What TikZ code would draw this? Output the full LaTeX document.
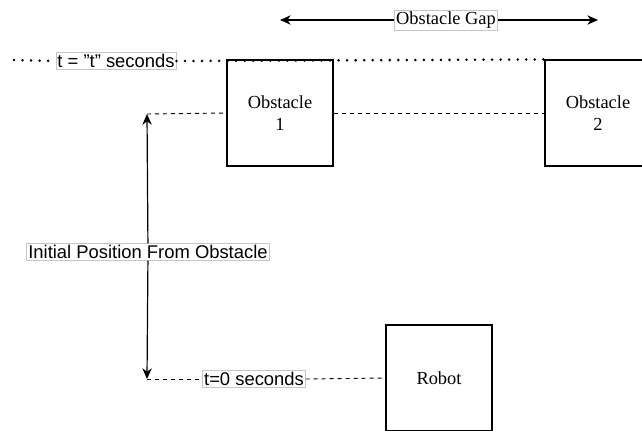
\documentclass[tikz,border=0pt]{standalone}
\usepackage{fontspec}
\setmainfont{Liberation Serif}
\setsansfont{Liberation Sans}
\usepackage{tikz}
\usetikzlibrary{calc, positioning, arrows.meta}

\tikzset{
    block/.style={draw, line width=0.8pt, minimum width=79.5pt, minimum height=79.5pt,
        align=center, font=\fontsize{13.8}{17}\selectfont},
    tag/.style={draw=gray!45, fill=white, inner sep=1.2pt, font=\fontsize{13.8}{16}\selectfont},
    sanstag/.style={tag, font=\sffamily\fontsize{13.8}{16}\selectfont},
    dashline/.style={dashed, dash pattern=on 3pt off 3pt, line width=0.7pt},
    dotline/.style={line width=2.1pt, line cap=round, dash pattern=on 0pt off 6.4pt},
    dimline/.style={-{Stealth[length=8pt, width=7pt, inset=2.5pt]}, line width=0.9pt}
}

\begin{document}
\begin{tikzpicture}[x=0.75pt, y=-0.75pt]
    \useasboundingbox (0,0) rectangle (642,430);
    \clip (0,0) rectangle (642,430);

    % Hindernisse und Roboter
    \node[block] (obs1) at (280,113) {Obstacle\\1};
    \node[block] (obs2) at (598,113) {Obstacle\\2};
    \node[block] (robot) at (439,378) {Robot};

    % Zeitlinie t
    \coordinate (dotstart) at (14,60);
    \node[sanstag] (tline) at (116,61) {t = "t" seconds};
    \draw[dotline] (dotstart) -- (tline.west);
    \draw[dotline] (tline.east) -- (obs2.north west);

    % Abstand der Hindernisse
    \coordinate (gapL) at (280,20);
    \coordinate (gapR) at (598,20);
    \node[tag] (gap) at (446,20) {Obstacle Gap};
    \draw[dimline] (gap) -- (gapL);
    \draw[dimline] (gap) -- (gapR);

    % Startabstand
    \coordinate (top) at (147,114);
    \coordinate (bottom) at (147,379);
    \node[sanstag] (init) at (148,252) {Initial Position From Obstacle};
    \draw[dimline] (init) -- (top);
    \draw[dimline] (init) -- (bottom);

    % Hilfslinien
    \draw[dashline] (top) -- (obs1.west);
    \draw[dashline] (obs1.east) -- (obs2.west);
    \node[sanstag] (tzero) at (254,379) {t=0 seconds};
    \draw[dashline] (bottom) -- (tzero.west);
    \draw[dashline] (tzero.east) -- (robot.west);
\end{tikzpicture}
\end{document}
